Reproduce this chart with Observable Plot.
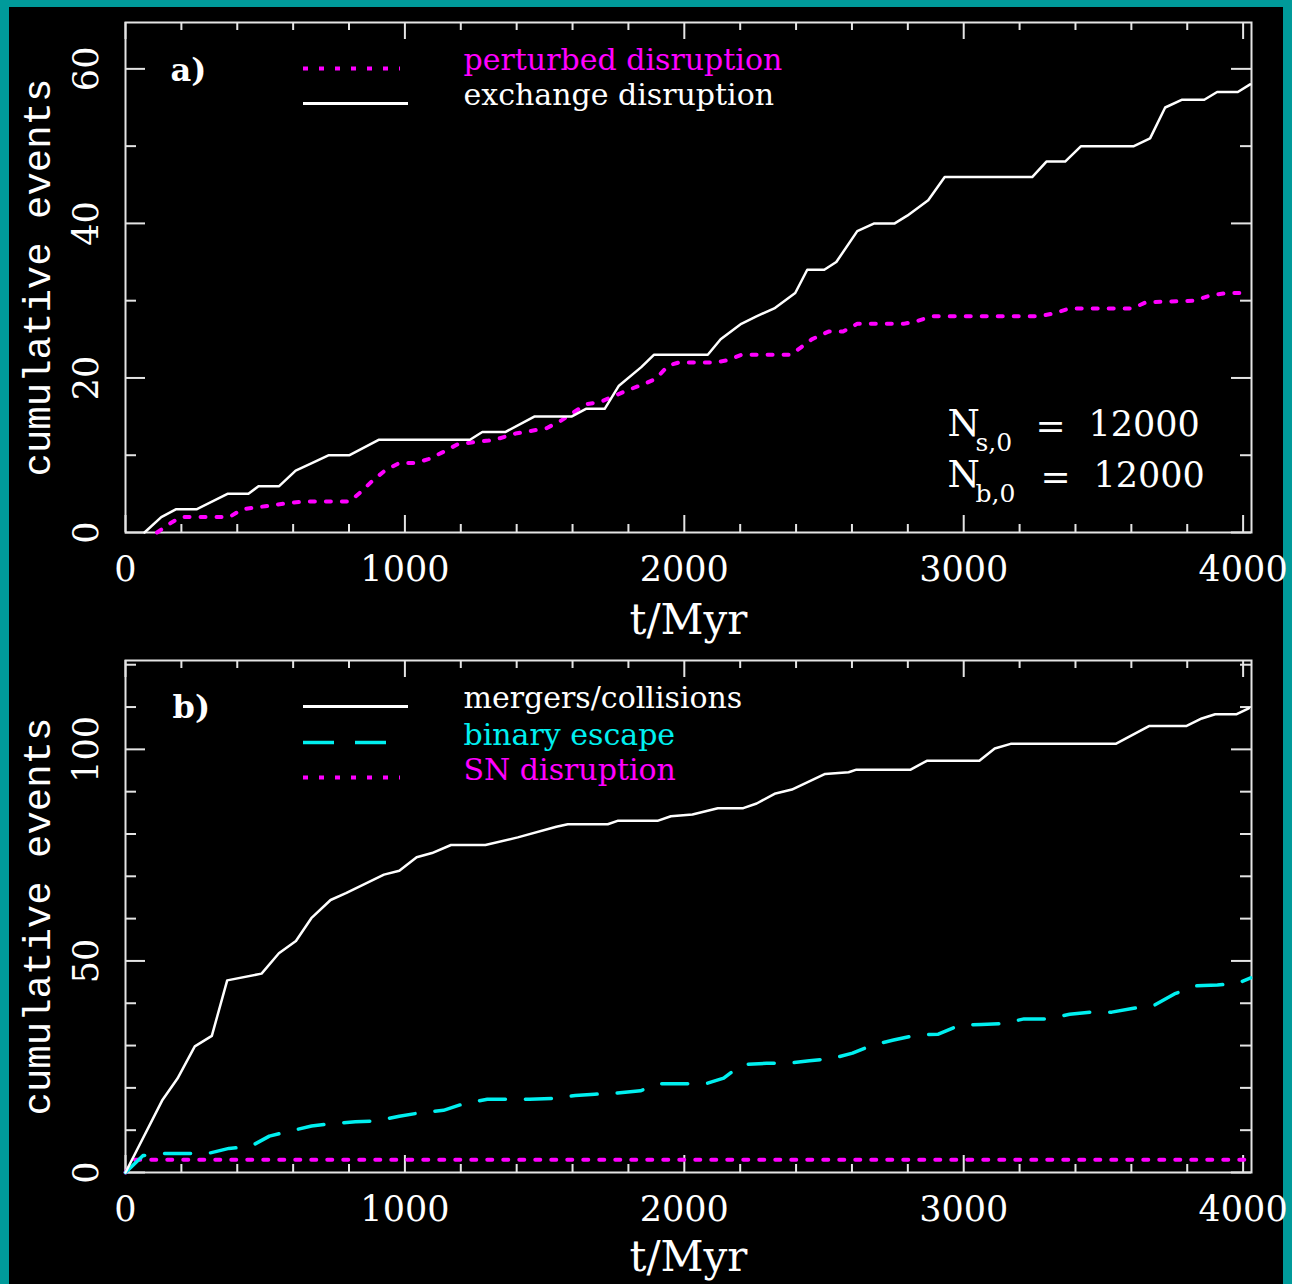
<!DOCTYPE html>
<html><head><meta charset="utf-8">
<script src="https://cdn.jsdelivr.net/npm/d3@7"></script>
<script src="https://cdn.jsdelivr.net/npm/@observablehq/plot@0.6"></script>
<style>
body{margin:0;background:#009a9a;width:1292px;height:1284px;overflow:hidden;position:relative}
#bg{position:absolute;left:9px;top:7px;width:1274px;height:1277px;background:#000}
.panel{position:absolute;left:0}
.panel svg{overflow:visible}
</style></head>
<body><div id="bg"></div><div id="a" class="panel" style="top:0"></div><div id="b" class="panel" style="top:640px"></div>
<script>
// ---------- data ----------
const xMajorTicks = [0, 1000, 2000, 3000, 4000];
const xMinorTicks = [200, 400, 600, 800, 1200, 1400, 1600, 1800, 2200, 2400, 2600, 2800, 3200, 3400, 3600, 3800];
const xTickLabels = ["0", "1000", "2000", "3000", "4000"];

const aYMajorTicks = [0, 20, 40, 60];
const aYMinorTicks = [10, 30, 50];
const aYTickLabels = ["0", "20", "40", "60"];

const bYMajorTicks = [0, 50, 100];
const bYMinorTicks = [10, 20, 30, 40, 60, 70, 80, 90, 110, 120];
const bYTickLabels = ["0", "50", "100"];

// panel a: exchange disruption (white, solid)
const exchT = [68, 128, 180, 254, 365, 440, 476, 550, 609, 669, 728, 802, 906, 1233, 1277, 1359, 1463, 1596, 1648, 1715, 1766, 1846, 1891, 2084, 2130, 2204, 2260, 2322, 2397, 2440, 2501, 2544, 2619, 2680, 2753, 2798, 2873, 2932, 3245, 3296, 3363, 3420, 3609, 3667, 3721, 3780, 3861, 3907, 3981, 4025];
const exchV = [0, 2, 3, 3, 5, 5, 6, 6, 8, 9, 10, 10, 12, 12, 13, 13, 15, 15, 16, 16, 19, 21.4, 23, 23, 25, 27, 28, 29, 31, 34, 34, 35, 39, 40, 40, 41, 43, 46, 46, 48, 48, 50, 50, 51, 55, 56, 56, 57, 57, 58];

// panel a: perturbed disruption (magenta, dotted)
const pertT = [113, 165, 200, 372, 417, 500, 580, 639, 802, 847, 884, 928, 980, 1040, 1084, 1136, 1188, 1247, 1300, 1340, 1396, 1507, 1560, 1648, 1700, 1796, 1855, 1898, 1943, 1980, 2107, 2157, 2204, 2382, 2419, 2456, 2516, 2568, 2619, 2784, 2836, 2887, 3274, 3327, 3378, 3603, 3653, 3825, 3884, 3943, 4020];
const pertV = [0, 1.3, 2, 2, 3, 3.4, 3.8, 4, 4, 5.4, 6.7, 8, 9, 9, 9.5, 10.4, 11.4, 11.7, 11.9, 12.2, 12.8, 13.5, 14.5, 16.6, 16.9, 18.4, 19.2, 19.9, 21.6, 22, 22, 22.3, 23, 23, 24, 25, 26, 26, 27, 27, 27.4, 28, 28, 28.4, 29, 29, 29.8, 30, 30.7, 31, 31];

// panel b: mergers/collisions (white, solid)
const mergT = [0, 131, 186, 248, 309, 364, 487, 549, 610, 665, 734, 789, 925, 980, 1042, 1097, 1165, 1288, 1404, 1542, 1583, 1726, 1761, 1904, 1952, 2029, 2120, 2211, 2259, 2323, 2385, 2504, 2588, 2616, 2810, 2868, 3056, 3111, 3168, 3544, 3663, 3796, 3852, 3900, 3977, 4020];
const mergV = [0, 17, 22.2, 29.8, 32.3, 45.4, 47, 51.8, 54.7, 60.1, 64.4, 66, 70.4, 71.3, 74.5, 75.5, 77.4, 77.4, 79.2, 81.7, 82.3, 82.3, 83.1, 83.1, 84.2, 84.6, 86.1, 86.1, 87.2, 89.5, 90.5, 94.2, 94.6, 95.2, 95.2, 97.3, 97.3, 100.2, 101.3, 101.3, 105.5, 105.5, 107.3, 108.3, 108.3, 109.7];

// panel b: binary escape (cyan, dashed)
const escT = [0, 63, 131, 295, 370, 446, 515, 597, 666, 747, 823, 898, 980, 1062, 1138, 1213, 1295, 1446, 1528, 1610, 1679, 1761, 1843, 1911, 2078, 2141, 2204, 2295, 2378, 2448, 2532, 2602, 2678, 2749, 2832, 2909, 2986, 3063, 3140, 3216, 3300, 3379, 3454, 3530, 3608, 3684, 3754, 3830, 3908, 3984, 4027];
const escV = [0, 4, 4.5, 4.5, 5.7, 6.1, 8.6, 9.9, 11, 11.6, 12, 12.2, 13.3, 14.2, 14.7, 16.3, 17.3, 17.3, 17.5, 18.2, 18.5, 18.8, 19.3, 21, 21, 22.3, 25.5, 25.8, 25.9, 26.4, 27, 28.2, 30.2, 31.3, 32.5, 32.7, 34.8, 35, 35.2, 36.3, 36.3, 37.4, 37.9, 37.9, 38.8, 39.6, 42.2, 44.1, 44.3, 44.8, 46];

// panel b: SN disruption (magenta, dotted)
const snT = [0, 35, 4020];
const snV = [0, 3, 3];

// ---------- styles ----------
const WHITE = "#ffffff", FRAME = "#e4e4e4", MAGENTA = "#ff00ff", CYAN = "#00f0f0";
const SERIF = "DejaVu Serif", MONO = "Liberation Mono";
const DOTS = "5,11", DASHES = "26,20";
const xDomain = [0, 4030];

const pts = (T, V) => T.map((t, i) => ({t, v: V[i]}));

function axesMarks(innerH, innerW, yMajor, yMinor, yLabels, titleDy) {
  const tick = {stroke: FRAME, strokeWidth: 2};
  const txt = {textAnchor: "middle", lineAnchor: "middle", fill: WHITE};
  return [
    Plot.ruleX(xMajorTicks, {x: d => d, insetTop: innerH - 17, ...tick}),
    Plot.ruleX(xMinorTicks, {x: d => d, insetTop: innerH - 8, ...tick}),
    Plot.ruleX(xMajorTicks, {x: d => d, insetBottom: innerH - 17, ...tick}),
    Plot.ruleX(xMinorTicks, {x: d => d, insetBottom: innerH - 8, ...tick}),
    Plot.ruleY(yMajor, {y: d => d, insetRight: innerW - 20, ...tick}),
    Plot.ruleY(yMinor, {y: d => d, insetRight: innerW - 11, ...tick}),
    Plot.ruleY(yMajor, {y: d => d, insetLeft: innerW - 20, ...tick}),
    Plot.ruleY(yMinor, {y: d => d, insetLeft: innerW - 11, ...tick}),
    Plot.frame({stroke: FRAME, strokeWidth: 2}),
    Plot.text(xMajorTicks, {x: d => d, text: (d, i) => xTickLabels[i], frameAnchor: "bottom", dy: 37, fontSize: 35, fontFamily: SERIF, ...txt}),
    Plot.text(yMajor, {y: d => d, text: (d, i) => yLabels[i], frameAnchor: "left", dx: -39, rotate: -90, fontSize: 35, fontFamily: SERIF, ...txt}),
    Plot.text(["t/Myr"], {frameAnchor: "bottom", dy: titleDy, fontSize: 42, fontFamily: SERIF, ...txt}),
    Plot.text(["cumulative events"], {frameAnchor: "left", dx: -88, rotate: -90, fontSize: 39, fontFamily: MONO, ...txt})
  ];
}

// ---------- panel a ----------
{
  const W = 1292, H = 660, mt = 22, mb = 128, ml = 125, mr = 41;
  const innerH = H - mt - mb, innerW = W - ml - mr, yMax = 66;
  const lbl = (txt, o) => Plot.text([txt], {frameAnchor: "top-left", textAnchor: "start", lineAnchor: "middle", fontFamily: SERIF, ...o});
  const nl = (txt, o) => Plot.text([txt], {frameAnchor: "bottom-right", textAnchor: "start", lineAnchor: "middle", fontFamily: SERIF, fill: WHITE, ...o});
  const chart = Plot.plot({
    width: W, height: H, marginTop: mt, marginBottom: mb, marginLeft: ml, marginRight: mr,
    style: {background: "transparent", color: WHITE, overflow: "visible"},
    x: {domain: xDomain, axis: null},
    y: {domain: [0, yMax], axis: null},
    marks: [
      ...axesMarks(innerH, innerW, aYMajorTicks, aYMinorTicks, aYTickLabels, 88),
      Plot.line(pts(pertT, pertV), {x: "t", y: "v", stroke: MAGENTA, strokeWidth: 4, strokeDasharray: DOTS}),
      Plot.line(pts(exchT, exchV), {x: "t", y: "v", stroke: WHITE, strokeWidth: 2.5}),
      // legend
      Plot.ruleY([yMax], {y: d => d, dy: 46, insetLeft: 178, insetRight: 851, stroke: MAGENTA, strokeWidth: 4, strokeDasharray: DOTS}),
      Plot.ruleY([yMax], {y: d => d, dy: 81, insetLeft: 178, insetRight: 843, stroke: WHITE, strokeWidth: 3}),
      lbl("perturbed disruption", {dx: 338, dy: 38, fontSize: 30, fill: MAGENTA}),
      lbl("exchange disruption", {dx: 338, dy: 73, fontSize: 30, fill: WHITE}),
      lbl("a)", {dx: 45, dy: 48, fontSize: 32, fontWeight: "bold", fill: WHITE}),
      // N labels
      nl("N", {dx: -304, dy: -108, fontSize: 37}),
      nl("s,0", {dx: -276, dy: -90, fontSize: 25}),
      nl("=", {dx: -216, dy: -106, fontSize: 36}),
      nl("12000", {dx: -163, dy: -108, fontSize: 35}),
      nl("N", {dx: -304, dy: -57, fontSize: 37}),
      nl("b,0", {dx: -276, dy: -39, fontSize: 25}),
      nl("=", {dx: -211, dy: -55, fontSize: 36}),
      nl("12000", {dx: -158, dy: -57, fontSize: 35})
    ]
  });
  document.getElementById("a").append(chart);
}

// ---------- panel b ----------
{
  const W = 1292, H = 644, mt = 20, mb = 112, ml = 125, mr = 41;
  const innerH = H - mt - mb, innerW = W - ml - mr, yMax = 121;
  const lbl = (txt, o) => Plot.text([txt], {frameAnchor: "top-left", textAnchor: "start", lineAnchor: "middle", fontFamily: SERIF, ...o});
  const chart = Plot.plot({
    width: W, height: H, marginTop: mt, marginBottom: mb, marginLeft: ml, marginRight: mr,
    style: {background: "transparent", color: WHITE, overflow: "visible"},
    x: {domain: xDomain, axis: null},
    y: {domain: [0, yMax], axis: null},
    marks: [
      ...axesMarks(innerH, innerW, bYMajorTicks, bYMinorTicks, bYTickLabels, 85),
      Plot.line(pts(snT, snV), {x: "t", y: "v", stroke: MAGENTA, strokeWidth: 4, strokeDasharray: DOTS}),
      Plot.line(pts(escT, escV), {x: "t", y: "v", stroke: CYAN, strokeWidth: 3.5, strokeDasharray: DASHES}),
      Plot.line(pts(mergT, mergV), {x: "t", y: "v", stroke: WHITE, strokeWidth: 2.5}),
      // legend
      Plot.ruleY([yMax], {y: d => d, dy: 46, insetLeft: 178, insetRight: 843, stroke: WHITE, strokeWidth: 3}),
      Plot.ruleY([yMax], {y: d => d, dy: 82, insetLeft: 178, insetRight: 851, stroke: CYAN, strokeWidth: 3.5, strokeDasharray: "31,21"}),
      Plot.ruleY([yMax], {y: d => d, dy: 117, insetLeft: 178, insetRight: 851, stroke: MAGENTA, strokeWidth: 4, strokeDasharray: DOTS}),
      lbl("mergers/collisions", {dx: 338, dy: 38, fontSize: 30, fill: WHITE}),
      lbl("binary escape", {dx: 338, dy: 75, fontSize: 30, fill: CYAN}),
      lbl("SN disruption", {dx: 338, dy: 110, fontSize: 30, fill: MAGENTA}),
      lbl("b)", {dx: 47, dy: 47, fontSize: 32, fontWeight: "bold", fill: WHITE})
    ]
  });
  document.getElementById("b").append(chart);
}
</script>
</body></html>
